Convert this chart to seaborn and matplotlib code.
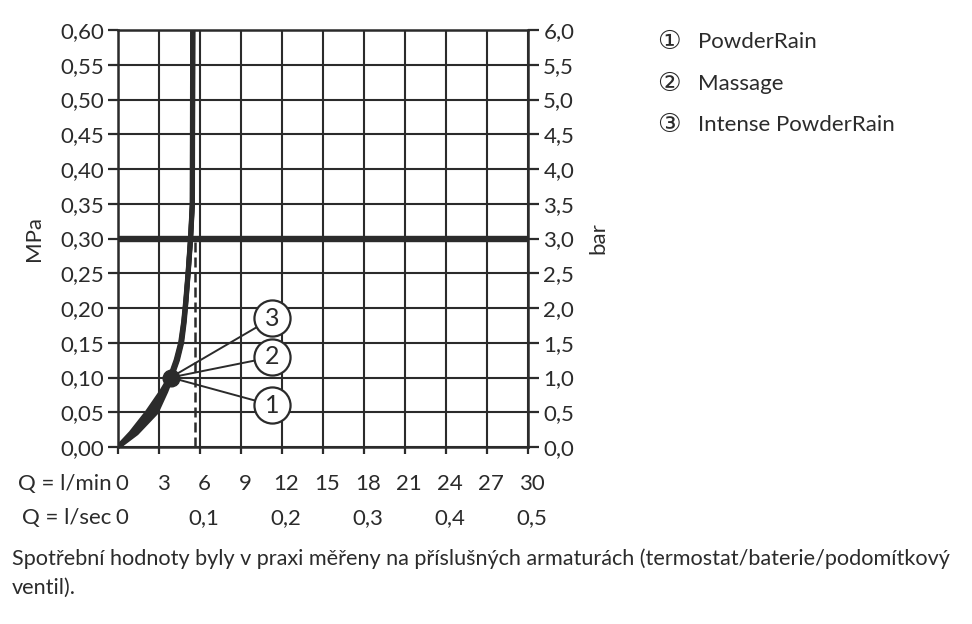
import matplotlib
matplotlib.use("Agg")
import matplotlib.pyplot as plt
import matplotlib.transforms as mtransforms
import seaborn as sns
import pandas as pd
import numpy as np

sns.set_theme(style="white")
plt.rcParams['font.family'] = ['Lato', 'DejaVu Sans']

# ---- data ----
pressure = [0, 0.02, 0.05, 0.08, 0.10, 0.125, 0.15, 0.18, 0.21, 0.25, 0.30, 0.35, 0.60]
flow_powderrain = [0, 1.35, 2.8, 3.5, 3.9, 4.35, 4.66, 4.85, 4.98, 5.14, 5.32, 5.45, 5.48]
flow_massage = [0, 1.15, 2.45, 3.35, 3.85, 4.30, 4.62, 4.82, 4.97, 5.13, 5.31, 5.44, 5.47]
flow_intense = [0, 0.95, 2.15, 3.2, 3.8, 4.25, 4.58, 4.80, 4.95, 5.12, 5.30, 5.43, 5.46]
series_names = ["PowderRain", "Massage", "Intense PowderRain"]
label_marks = ["①", "②", "③"]
label_nums = ["1", "2", "3"]
label_pos_q = [11.3, 11.3, 11.3]
label_pos_p = [0.060, 0.1295, 0.1856]
dot_q, dot_p = 3.85, 0.10
ref_pressure = 0.30
limit_flow = 5.65
xticks_min = [0, 3, 6, 9, 12, 15, 18, 21, 24, 27, 30]
sec_pos = [0, 6, 12, 18, 24, 30]
sec_labels = ["0", "0,1", "0,2", "0,3", "0,4", "0,5"]
yticks_mpa = [round(0.05 * i, 2) for i in range(13)]
yticks_bar = [round(0.5 * i, 1) for i in range(13)]
footer = ("Spotřební hodnoty byly v praxi měřeny na příslušných armaturách (termostat/baterie/podomítkový\nventil).")

df = pd.concat([
    pd.DataFrame({"Q": flow_powderrain, "p": pressure, "s": series_names[0]}),
    pd.DataFrame({"Q": flow_massage, "p": pressure, "s": series_names[1]}),
    pd.DataFrame({"Q": flow_intense, "p": pressure, "s": series_names[2]}),
])

dark = "#2b2b2b"
fs = 16
fig = plt.figure(figsize=(9.72, 6.24), dpi=100)
ax = fig.add_axes([118/972, 1-447/624, 410/972, 417/624])

ax.set_xlim(0, 30)
ax.set_ylim(0, 0.60)
ax.set_xticks(xticks_min)
ax.set_yticks(yticks_mpa)
ax.grid(True, color=dark, linewidth=1.5)
for sp in ax.spines.values():
    sp.set_color(dark)
    sp.set_linewidth(1.8)
ax.set_axisbelow(True)

ax.axhline(ref_pressure, color=dark, linewidth=4.6, zorder=3)
ax.plot([limit_flow, limit_flow], [0, ref_pressure], color=dark, linewidth=1.8,
        linestyle=(0, (4, 2)), zorder=2)

sns.lineplot(data=df, x="Q", y="p", hue="s", sort=False, estimator=None,
             palette=[dark, dark, dark], linewidth=3.6, legend=False, ax=ax, zorder=4)

for q, p in zip(label_pos_q, label_pos_p):
    ax.plot([dot_q, q], [dot_p, p], color=dark, linewidth=1.4, zorder=5)
ax.plot([dot_q], [dot_p], "o", color=dark, markersize=12, zorder=6)
for q, p, n in zip(label_pos_q, label_pos_p, label_nums):
    ax.plot([q], [p], "o", markersize=26, markerfacecolor="white",
            markeredgecolor=dark, markeredgewidth=1.6, zorder=7)
    ax.text(q, p, n, ha="center", va="center", fontsize=18, color=dark, zorder=8)

ax.tick_params(axis="y", which="both", left=True, length=7, width=1.6, color=dark,
               labelsize=fs, labelcolor=dark, pad=3)
ax.tick_params(axis="x", which="both", bottom=True, length=5, width=1.6, color=dark,
               labelbottom=False)
ax.set_yticklabels([f"{v:.2f}".replace(".", ",") for v in yticks_mpa])
ax.set_ylabel("MPa", fontsize=fs, color=dark, labelpad=12)
ax.set_xlabel("")

ax2 = ax.twinx()
ax2.set_ylim(0, 6)
ax2.set_yticks(yticks_bar)
ax2.set_yticklabels([f"{v:.1f}".replace(".", ",") for v in yticks_bar])
ax2.tick_params(axis="y", right=True, length=8, width=1.6, color=dark,
                labelsize=fs, labelcolor=dark, pad=3)
ax2.set_ylabel("bar", fontsize=fs, color=dark, rotation=90, labelpad=10)
for sp in ax2.spines.values():
    sp.set_visible(False)

tr = ax.get_xaxis_transform() + mtransforms.ScaledTranslation(4/100, 0, fig.dpi_scale_trans)
for q in xticks_min:
    ax.text(q, -0.089, str(q), transform=tr, ha="center", va="center",
            fontsize=fs, color=dark)
for q, lab in zip(sec_pos, sec_labels):
    ax.text(q, -0.170, lab, transform=tr, ha="center", va="center",
            fontsize=fs, color=dark)
tr0 = ax.get_xaxis_transform()
ax.text(-0.45, -0.089, "Q = l/min", transform=tr0, ha="right", va="center", fontsize=fs, color=dark)
ax.text(-0.45, -0.170, "Q = l/sec", transform=tr0, ha="right", va="center", fontsize=fs, color=dark)

for i, (m, name) in enumerate(zip(label_marks, series_names)):
    y = 1 - (42 + 41.5 * i) / 624
    fig.text(657/972, y, m, ha="left", va="center", fontsize=19, color=dark,
             family=["DejaVu Sans"])
    fig.text(698/972, y, name, ha="left", va="center", fontsize=16, color=dark)

fig.text(12/972, 1 - 548/624, footer, ha="left", va="top", fontsize=15.6, color=dark,
         linespacing=1.6)

fig.savefig("out.png", dpi=100, facecolor="white")
